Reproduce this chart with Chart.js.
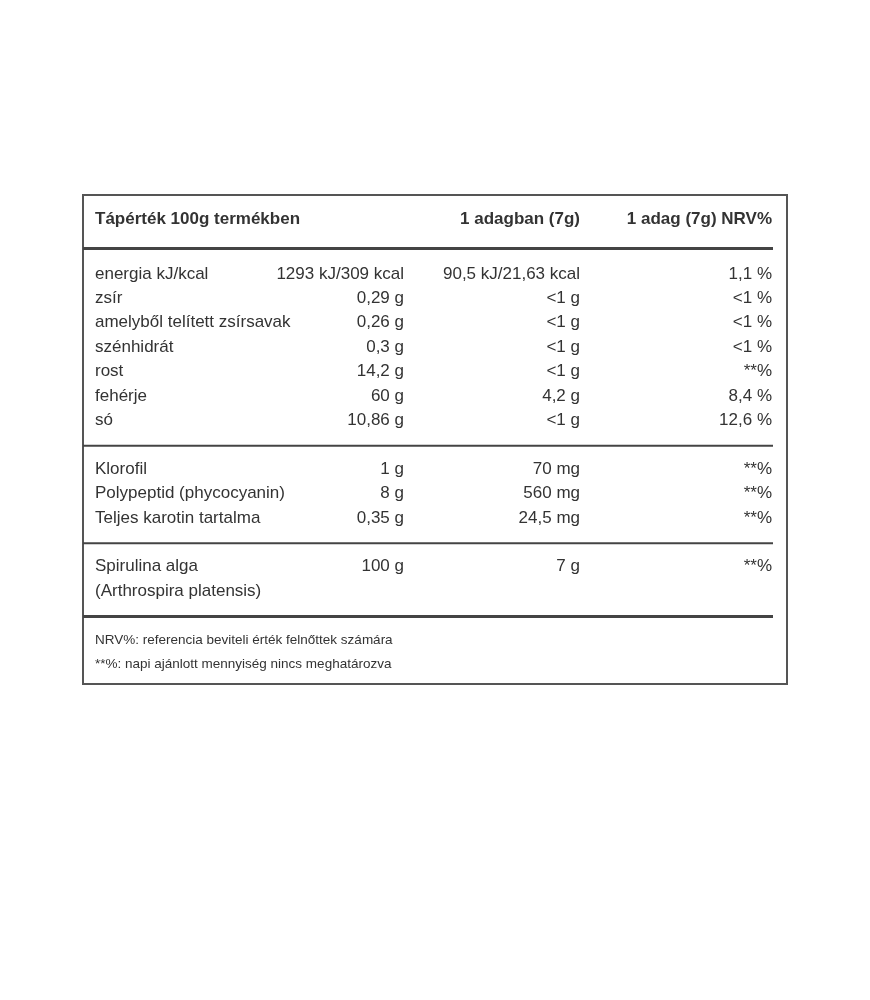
<!DOCTYPE html>
<html><head><meta charset="utf-8">
<script src="https://cdn.jsdelivr.net/npm/chart.js@4/dist/chart.umd.min.js"></script>
<style>html,body{margin:0;padding:0;background:#fff}</style>
</head><body>
<canvas id="c" width="870" height="1000"></canvas>
<script>
const headers = ["Tápérték 100g termékben", "1 adagban (7g)", "1 adag (7g) NRV%"];
const rowKeys = ["header","","energia","zsir","telitett","szenhidrat","rost","feherje","so","sep1","klorofil","polypeptid","karotin","sep2","spirulina","arthro","sep3","foot1","foot2"];
const labels = {energia:"energia kJ/kcal",zsir:"zsír",telitett:"amelyből telített zsírsavak",szenhidrat:"szénhidrát",rost:"rost",feherje:"fehérje",so:"só",klorofil:"Klorofil",polypeptid:"Polypeptid (phycocyanin)",karotin:"Teljes karotin tartalma",spirulina:"Spirulina alga",arthro:"(Arthrospira platensis)"};
const per100 = {energia:"1293 kJ/309 kcal",zsir:"0,29 g",telitett:"0,26 g",szenhidrat:"0,3 g",rost:"14,2 g",feherje:"60 g",so:"10,86 g",klorofil:"1 g",polypeptid:"8 g",karotin:"0,35 g",spirulina:"100 g"};
const perServing = {energia:"90,5 kJ/21,63 kcal",zsir:"<1 g",telitett:"<1 g",szenhidrat:"<1 g",rost:"<1 g",feherje:"4,2 g",so:"<1 g",klorofil:"70 mg",polypeptid:"560 mg",karotin:"24,5 mg",spirulina:"7 g"};
const nrv = {energia:"1,1 %",zsir:"<1 %",telitett:"<1 %",szenhidrat:"<1 %",rost:"**%",feherje:"8,4 %",so:"12,6 %",klorofil:"**%",polypeptid:"**%",karotin:"**%",spirulina:"**%"};
const footnotes = {foot1:"NRV%: referencia beviteli érték felnőttek számára",foot2:"**%: napi ajánlott mennyiség nincs meghatározva"};
const separators = [["sep1",2],["sep2",2],["sep3",3]];

const tablePlugin = {
  id:'table',
  afterDraw(chart){
    const ctx = chart.ctx, y = chart.scales.y;
    const py = k => y.getPixelForValue(rowKeys.indexOf(k));
    ctx.save();
    ctx.fillStyle='#fff';
    ctx.strokeStyle='#555'; ctx.lineWidth=2;
    ctx.strokeRect(83,195,704,489);
    ctx.fillStyle='#333'; ctx.textBaseline='middle';
    const F = "'Liberation Sans', Arial, sans-serif";
    ctx.font = "bold 17px "+F;
    const hy = py("header")-6;
    ctx.textAlign='left'; ctx.fillText(headers[0],95,hy);
    ctx.textAlign='right'; ctx.fillText(headers[1],580,hy); ctx.fillText(headers[2],772,hy);
    ctx.strokeStyle='#444'; ctx.lineWidth=3;
    const hl = py("")-1;
    ctx.beginPath(); ctx.moveTo(83,hl); ctx.lineTo(773,hl); ctx.stroke();
    separators.forEach(([k,w])=>{ const yy=py(k)+1; ctx.lineWidth=w; ctx.beginPath(); ctx.moveTo(83,yy); ctx.lineTo(773,yy); ctx.stroke(); });
    ctx.font = "17px "+F;
    Object.keys(labels).forEach(k=>{
      const yy = py(k);
      ctx.textAlign='left'; ctx.fillText(labels[k],95,yy);
      ctx.textAlign='right';
      if(per100[k]) ctx.fillText(per100[k],404,yy);
      if(perServing[k]) ctx.fillText(perServing[k],580,yy);
      if(nrv[k]) ctx.fillText(nrv[k],772,yy);
    });
    ctx.font = "13.5px "+F; ctx.textAlign='left';
    Object.keys(footnotes).forEach(k=>ctx.fillText(footnotes[k],95,py(k)));
    ctx.restore();
  }
};

new Chart(document.getElementById('c'),{
  type:'line',
  data:{labels:rowKeys,datasets:[{data:[],showLine:false}]},
  options:{
    responsive:false,animation:false,devicePixelRatio:1,
    layout:{padding:{top:225,bottom:335.6,left:83,right:83}},
    plugins:{legend:{display:false},tooltip:{enabled:false}},
    scales:{
      x:{display:false},
      y:{type:'category',labels:rowKeys,display:false,offset:false}
    }
  },
  plugins:[tablePlugin]
});
</script>
</body></html>
